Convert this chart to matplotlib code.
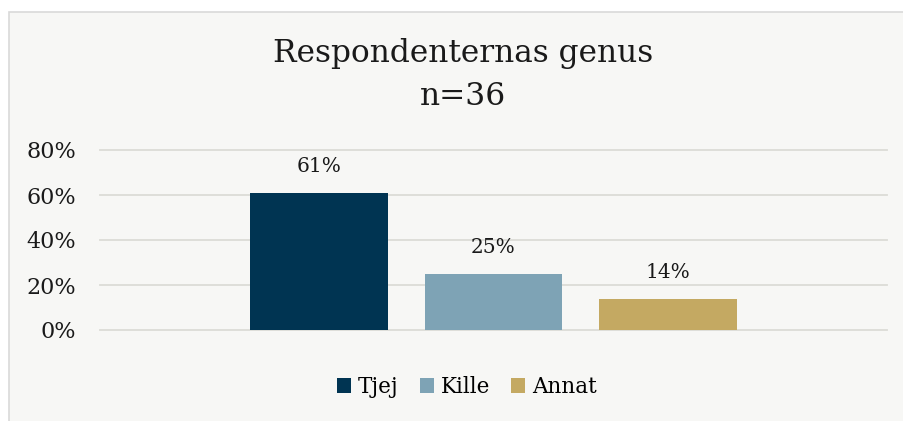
import matplotlib.pyplot as plt
from matplotlib.patches import Rectangle
from matplotlib.ticker import PercentFormatter

categories = ['Tjej', 'Kille', 'Annat']
shares = [0.61, 0.25, 0.14]
labels = ['61%', '25%', '14%']
colors = ['#003452', '#7ea3b5', '#c4a962']
yticks = [0, 0.2, 0.4, 0.6, 0.8]

BG = '#f7f7f5'
GRID = '#dcdcd6'
SERIF = 'DejaVu Serif'
INK = '#1a1a1a'

fig = plt.figure(figsize=(9.04, 4.21), dpi=100)
fig.patch.set_facecolor('white')
# chart area with a light border
fig.patches.append(Rectangle((9 / 904, -0.1), 1.0, 1.1 - 12 / 421,
                             transform=fig.transFigure, facecolor=BG,
                             edgecolor='#d9d9d9', linewidth=1.2, zorder=-5))

ax = fig.add_axes([100 / 904, 91 / 421, 787 / 904, 180 / 421])
ax.set_facecolor('none')

x = list(range(len(categories)))
bars = ax.bar(x, shares, width=0.79, color=colors, zorder=2)
for xi, v, t in zip(x, shares, labels):
    ax.text(xi, v + 0.115, t, ha='center', va='center', fontsize=14.5,
            family=SERIF, color=INK)

ax.set_xlim(-1.255, 3.255)
ax.set_ylim(0, 0.8)
ax.set_yticks(yticks)
ax.yaxis.set_major_formatter(PercentFormatter(1.0, decimals=0))
ax.grid(axis='y', color=GRID, linewidth=1.3, zorder=1)
for gl in ax.get_ygridlines():
    gl.set_clip_on(False)
ax.set_xticks([])
ax.tick_params(axis='y', length=0, pad=17, labelsize=16, labelcolor=INK)
for lab in ax.get_yticklabels():
    lab.set_family(SERIF)
for s in ax.spines.values():
    s.set_visible(False)

fig.text(463 / 904, 1 - 62 / 421, 'Respondenternas genus', ha='center',
         va='baseline', fontsize=22.5, family=SERIF, color=INK)
fig.text(463 / 904, 1 - 105 / 421, 'n=36', ha='center', va='baseline',
         fontsize=22.5, family=SERIF, color=INK)

fig.legend(bars, categories, loc='center', bbox_to_anchor=(467 / 904, 1 - 387 / 421),
           ncol=3, frameon=False, prop={'family': SERIF, 'size': 15.5},
           handlelength=0.65, handleheight=0.65, handletextpad=0.3,
           columnspacing=1.0)

fig.savefig('out.png', dpi=100, facecolor=fig.get_facecolor())
